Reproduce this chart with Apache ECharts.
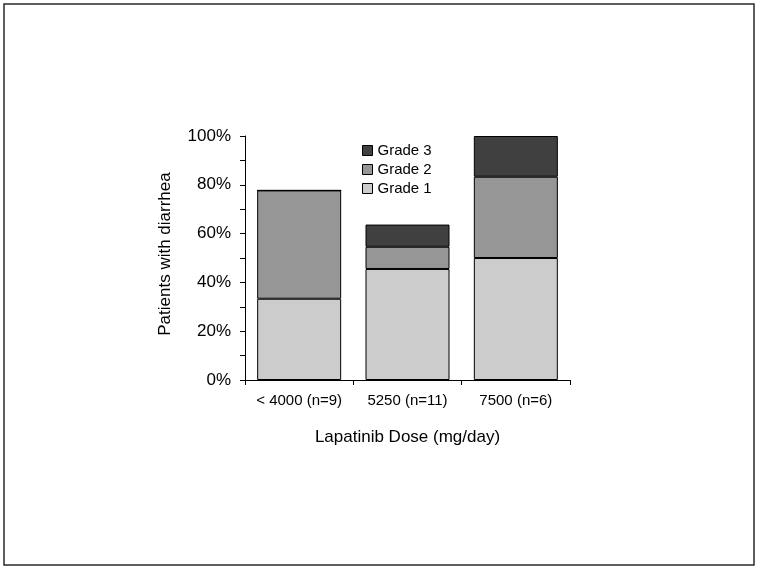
<!DOCTYPE html>
<html>
<head>
<meta charset="utf-8">
<script src="https://cdn.jsdelivr.net/npm/echarts@6/dist/echarts.min.js"></script>
<style>
  html, body { margin: 0; padding: 0; background: #fff; }
  #chart { width: 758px; height: 569px; }
</style>
</head>
<body>
<div id="chart"></div>
<script>
// dose groups
var categories = ['< 4000 (n=9)', '5250 (n=11)', '7500 (n=6)']
// % of patients per grade
var grade1 = [33.3, 45.5, 50.0]
var grade2 = [44.4, 9.1, 33.3]
var grade3 = [0, 9.1, 16.7]
var yTicks = [0, 20, 40, 60, 80, 100]

var font = 'Liberation Sans, Arial, sans-serif'
var chart = echarts.init(document.getElementById('chart'))

function barSeries(name, data, color) {
  return {
    name: name,
    type: 'bar',
    stack: 'total',
    data: data,
    barWidth: 84,
    itemStyle: { color: color, borderColor: '#000', borderWidth: 1 },
    emphasis: { disabled: true },
    animation: false
  }
}

chart.setOption({
  backgroundColor: '#fff',
  textStyle: { fontFamily: font },
  graphic: [{
    type: 'rect',
    shape: { x: 4, y: 4, width: 750, height: 561 },
    style: { fill: 'none', stroke: '#2a2a2a', lineWidth: 1.5 },
    silent: true
  }],
  grid: { left: 245, right: 188, top: 136, bottom: 189 },
  legend: {
    orient: 'vertical',
    left: 362,
    top: 143,
    padding: 0,
    icon: 'rect',
    itemWidth: 10,
    itemHeight: 10,
    itemGap: 4,
    data: ['Grade 3', 'Grade 2', 'Grade 1'],
    textStyle: { fontSize: 15, color: '#000', fontFamily: font, lineHeight: 15 },
    itemStyle: { borderColor: '#000', borderWidth: 1 },
    selectedMode: false
  },
  xAxis: {
    type: 'category',
    data: categories,
    name: 'Lapatinib Dose (mg/day)',
    nameLocation: 'middle',
    nameGap: 49,
    nameTextStyle: { fontSize: 17, color: '#000', fontFamily: font },
    axisLine: { lineStyle: { color: '#000', width: 1 } },
    axisTick: { show: true, length: 5, lineStyle: { color: '#000' } },
    axisLabel: { fontSize: 15, color: '#000', margin: 13, interval: 0, fontFamily: font }
  },
  yAxis: {
    type: 'value',
    min: yTicks[0],
    max: yTicks[yTicks.length - 1],
    interval: 20,
    name: 'Patients with diarrhea',
    nameLocation: 'middle',
    nameGap: 71,
    nameTextStyle: { fontSize: 17, color: '#000', fontFamily: font, padding: [0, 0, 0, 8] },
    axisLine: { show: true, lineStyle: { color: '#000', width: 1 } },
    axisTick: { show: true, length: 5, lineStyle: { color: '#000' } },
    minorTick: { show: true, splitNumber: 2, length: 5, lineStyle: { color: '#000' } },
    splitLine: { show: false },
    axisLabel: { fontSize: 17, color: '#000', margin: 14, fontFamily: font, formatter: '{value}%' }
  },
  series: [
    barSeries('Grade 1', grade1, '#cccccc'),
    barSeries('Grade 2', grade2, '#969696'),
    barSeries('Grade 3', grade3, '#404040')
  ]
})
</script>
</body>
</html>
